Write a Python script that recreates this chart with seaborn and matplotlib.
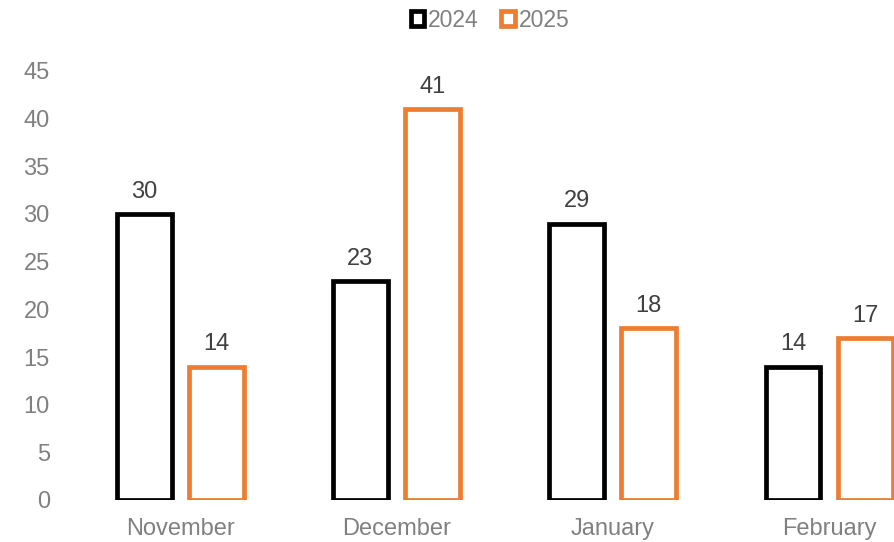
import matplotlib
matplotlib.use("Agg")
import matplotlib.pyplot as plt
import seaborn as sns
import pandas as pd
from matplotlib.patches import Rectangle

months = ["November", "December", "January", "February"]
values_2024 = [30, 23, 29, 14]
values_2025 = [14, 41, 18, 17]
series = ["2024", "2025"]
colors = ["#000000", "#ED7D31"]
yticks = [0, 5, 10, 15, 20, 25, 30, 35, 40, 45]

df = pd.DataFrame({
    "month": months * 2,
    "value": values_2024 + values_2025,
    "year": [series[0]] * 4 + [series[1]] * 4,
})

sns.set_theme(style="white")
plt.rcParams["font.family"] = ["Liberation Sans", "DejaVu Sans"]

fig = plt.figure(figsize=(8.94, 5.42), dpi=100)
ax = fig.add_axes([72 / 894, 42 / 542, (894 - 72) / 894, (500 - 71) / 542])

sns.barplot(data=df, x="month", y="value", hue="year", order=months,
            hue_order=series, palette=colors, fill=False, linewidth=3.4,
            width=0.667, gap=0.24, ax=ax, legend=False, errorbar=None)

for patch in ax.patches:
    patch.set_joinstyle("miter")

for cont in ax.containers:
    ax.bar_label(cont, labels=[f"{v:g}" for v in cont.datavalues], padding=8,
                 color="#404040", fontsize=17)

ax.set_ylim(0, 45)
ax.set_xlim(-0.5, 3.3)
ax.set_yticks(yticks)
ax.set_yticklabels([str(t) for t in yticks])
ax.tick_params(axis="y", colors="#808080", labelsize=17, length=0, pad=16)
ax.tick_params(axis="x", colors="#808080", labelsize=17, length=0, pad=13)
ax.set_xlabel("")
ax.set_ylabel("")
for s in ax.spines.values():
    s.set_visible(False)
ax.grid(False)

handles = [Rectangle((0, 0), 1, 1, fill=False, edgecolor=c, linewidth=3.4) for c in colors]
leg = fig.legend(handles, series, loc="center", bbox_to_anchor=(0.548, 0.963),
                 ncol=2, frameon=False, fontsize=16.5, handlelength=0.6,
                 handleheight=0.6, handletextpad=0.15, columnspacing=1.0)
for t in leg.get_texts():
    t.set_color("#808080")

fig.savefig("out.png", dpi=100)
